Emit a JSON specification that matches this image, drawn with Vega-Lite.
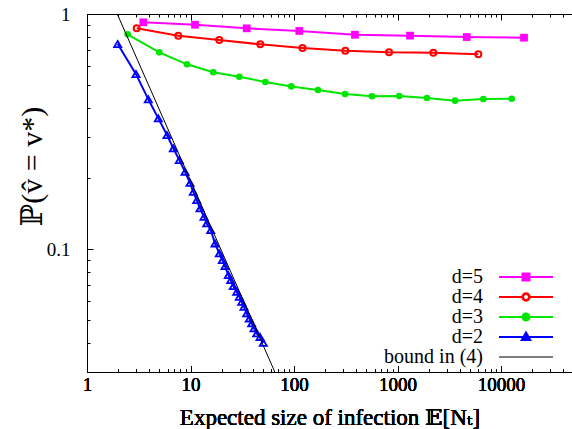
{
  "$schema": "https://vega.github.io/schema/vega-lite/v6.json",
  "autosize": {"type": "none"},
  "padding": {"left": 87, "top": 14, "right": 0, "bottom": 57},
  "width": 485,
  "height": 358,
  "config": {
    "view": {"stroke": null},
    "font": "Liberation Serif, DejaVu Serif, serif",
    "axis": {"grid": false, "domainColor": "#000", "domainWidth": 1, "tickColor": "#000", "tickWidth": 1, "labelColor": "#000", "titleColor": "#000", "labelFont": "Liberation Serif, DejaVu Serif, serif", "titleFont": "Liberation Serif, DejaVu Serif, serif", "titleFontWeight": "normal", "labelFontSize": 19, "labelFlush": false, "labelOverlap": false, "labelBound": false},
    "legend": {"labelFont": "Liberation Serif, DejaVu Serif, serif"}
  },
  "data": {
    "values": [
      {"series": "d=5", "x": 3.5, "y": 0.922},
      {"series": "d=5", "x": 11.05, "y": 0.9},
      {"series": "d=5", "x": 34.9, "y": 0.869},
      {"series": "d=5", "x": 112.5, "y": 0.847},
      {"series": "d=5", "x": 388, "y": 0.816},
      {"series": "d=5", "x": 1321, "y": 0.809},
      {"series": "d=5", "x": 4665, "y": 0.798},
      {"series": "d=5", "x": 16680, "y": 0.793},
      {"series": "d=4", "x": 3.02, "y": 0.869},
      {"series": "d=4", "x": 7.62, "y": 0.809},
      {"series": "d=4", "x": 18.97, "y": 0.775},
      {"series": "d=4", "x": 47.2, "y": 0.743},
      {"series": "d=4", "x": 120.8, "y": 0.717},
      {"series": "d=4", "x": 313, "y": 0.698},
      {"series": "d=4", "x": 828, "y": 0.687},
      {"series": "d=4", "x": 2218, "y": 0.684},
      {"series": "d=4", "x": 6036, "y": 0.674},
      {"series": "d=3", "x": 2.47, "y": 0.82},
      {"series": "d=3", "x": 4.99, "y": 0.687},
      {"series": "d=3", "x": 9.25, "y": 0.611},
      {"series": "d=3", "x": 16.6, "y": 0.565},
      {"series": "d=3", "x": 29.6, "y": 0.541},
      {"series": "d=3", "x": 52.8, "y": 0.514},
      {"series": "d=3", "x": 94.2, "y": 0.492},
      {"series": "d=3", "x": 170.6, "y": 0.475},
      {"series": "d=3", "x": 311, "y": 0.457},
      {"series": "d=3", "x": 567, "y": 0.447},
      {"series": "d=3", "x": 1040, "y": 0.448},
      {"series": "d=3", "x": 1928, "y": 0.439},
      {"series": "d=3", "x": 3594, "y": 0.428},
      {"series": "d=3", "x": 6745, "y": 0.435},
      {"series": "d=3", "x": 12690, "y": 0.436},
      {"series": "d=2", "x": 1.98, "y": 0.745},
      {"series": "d=2", "x": 2.974, "y": 0.555},
      {"series": "d=2", "x": 3.911, "y": 0.4335},
      {"series": "d=2", "x": 4.886, "y": 0.3598},
      {"series": "d=2", "x": 5.929, "y": 0.3055},
      {"series": "d=2", "x": 6.822, "y": 0.2683},
      {"series": "d=2", "x": 7.795, "y": 0.2392},
      {"series": "d=2", "x": 8.85, "y": 0.2133},
      {"series": "d=2", "x": 9.89, "y": 0.1915},
      {"series": "d=2", "x": 10.64, "y": 0.1753},
      {"series": "d=2", "x": 11.48, "y": 0.1616},
      {"series": "d=2", "x": 12.36, "y": 0.149},
      {"series": "d=2", "x": 13.5, "y": 0.1372},
      {"series": "d=2", "x": 14.34, "y": 0.1286},
      {"series": "d=2", "x": 15.67, "y": 0.1205},
      {"series": "d=2", "x": 17.25, "y": 0.1057},
      {"series": "d=2", "x": 18.98, "y": 0.0959},
      {"series": "d=2", "x": 20.29, "y": 0.0898},
      {"series": "d=2", "x": 21.54, "y": 0.0847},
      {"series": "d=2", "x": 23.19, "y": 0.0775},
      {"series": "d=2", "x": 24.45, "y": 0.0738},
      {"series": "d=2", "x": 25.91, "y": 0.0696},
      {"series": "d=2", "x": 27.95, "y": 0.0658},
      {"series": "d=2", "x": 29.61, "y": 0.0627},
      {"series": "d=2", "x": 31.23, "y": 0.0597},
      {"series": "d=2", "x": 32.88, "y": 0.0568},
      {"series": "d=2", "x": 34.91, "y": 0.0533},
      {"series": "d=2", "x": 36.99, "y": 0.0507},
      {"series": "d=2", "x": 39.02, "y": 0.0483},
      {"series": "d=2", "x": 41.07, "y": 0.046},
      {"series": "d=2", "x": 43.62, "y": 0.0438},
      {"series": "d=2", "x": 46.95, "y": 0.0423},
      {"series": "d=2", "x": 50.5, "y": 0.0399},
      {"series": "bound in (4)", "x": 1.96, "y": 1.0},
      {"series": "bound in (4)", "x": 65.3, "y": 0.03}
    ]
  },
  "encoding": {
    "x": {
      "field": "x", "type": "quantitative",
      "scale": {"type": "log", "domain": [1, 48500], "nice": false},
      "axis": {
        "orient": "bottom",
        "values": [1,2,3,4,5,6,7,8,9,10,20,30,40,50,60,70,80,90,100,200,300,400,500,600,700,800,900,1000,2000,3000,4000,5000,6000,7000,8000,9000,10000,20000,30000,40000],
        "format": "~g",
        "labelExpr": "indexof([1,10,100,1000,10000], datum.value) >= 0 ? datum.label : ''",
        "tickSize": {"condition": {"test": "indexof([1,10,100,1000,10000], datum.value) >= 0", "value": -6}, "value": -3},
        "labelPadding": 9,
        "title": "Expected size of infection 𝔼[Nₜ]",
        "titleFontSize": 23,
        "titleFontWeight": "normal",
        "titleBaseline": "middle",
        "titleY": 45
      }
    },
    "y": {
      "field": "y", "type": "quantitative",
      "scale": {"type": "log", "domain": [0.03, 1], "nice": false},
      "axis": {
        "values": [0.03,0.04,0.05,0.06,0.07,0.08,0.09,0.1,0.2,0.3,0.4,0.5,0.6,0.7,0.8,0.9,1],
        "format": "~g",
        "labelExpr": "indexof([0.1,1], datum.value) >= 0 ? datum.label : ''",
        "tickSize": {"condition": {"test": "indexof([0.1,1], datum.value) >= 0", "value": -6}, "value": -3},
        "labelPadding": 23,
        "title": "ℙ(v̂ = v*)",
        "titleFontSize": 30,
        "titleFontWeight": "normal",
        "titleAlign": "center",
        "titleBaseline": "middle",
        "titleAngle": -90,
        "titleX": -55,
        "titleY": 152
      }
    },
    "color": {
      "field": "series", "type": "nominal",
      "scale": {"domain": ["d=5", "d=4", "d=3", "d=2", "bound in (4)"], "range": ["#ff00ff", "#ff0000", "#00e600", "#0000ff", "#000000"]},
      "legend": {
        "orient": "none", "legendX": 429, "legendY": 253, "title": null,
        "labelFont": "Liberation Serif, DejaVu Serif, serif", "labelFontSize": 20, "labelColor": "#000",
        "labelAlign": "right", "labelOffset": -53,
        "symbolSize": 100, "symbolStrokeWidth": 2, "rowPadding": 0,
        "encode": {
          "symbols": {
            "update": {
              "shape": {"signal": "datum.value == 'd=5' ? 'M-5.4,0L5.4,0M-0.7,-0.7L0.7,-0.7L0.7,0.7L-0.7,0.7Z' : datum.value == 'd=4' ? 'M-5.4,0L-0.75,0M0.75,0L5.4,0M0.75,0A0.75,0.75 0 1,1 -0.75,0A0.75,0.75 0 1,1 0.75,0ZM0.6,0A0.6,0.6 0 1,0 -0.6,0A0.6,0.6 0 1,0 0.6,0Z' : datum.value == 'd=3' ? 'M-5.4,0L5.4,0M0.7,0A0.7,0.7 0 1,1 -0.7,0A0.7,0.7 0 1,1 0.7,0Z' : datum.value == 'd=2' ? 'M-5.4,0L5.4,0M0,-0.9L0.85,0.6L-0.85,0.6Z' : 'M-5.4,0L5.4,0'"},
              "stroke": {"signal": "scale('color', datum.value)"},
              "strokeWidth": {"signal": "datum.value == 'bound in (4)' ? 1 : 2"},
              "opacity": {"value": 1}
            }
          }
        }
      }
    }
  },
  "layer": [
    {
      "transform": [{"filter": "datum.series != 'bound in (4)'"}],
      "mark": {"type": "line", "strokeWidth": 2}
    },
    {
      "transform": [{"filter": "datum.series == 'd=5'"}],
      "mark": {"type": "point", "shape": "square", "filled": true, "size": 60, "opacity": 1}
    },
    {
      "transform": [{"filter": "datum.series == 'd=4'"}],
      "mark": {"type": "point", "shape": "circle", "filled": false, "size": 36, "strokeWidth": 2, "opacity": 1}
    },
    {
      "transform": [{"filter": "datum.series == 'd=3'"}],
      "mark": {"type": "point", "shape": "circle", "filled": true, "size": 44, "opacity": 1}
    },
    {
      "transform": [{"filter": "datum.series == 'd=2'"}],
      "mark": {"type": "point", "shape": "triangle-up", "filled": false, "size": 50, "strokeWidth": 1.8, "opacity": 1}
    },
    {
      "transform": [{"filter": "datum.series == 'bound in (4)'"}],
      "mark": {"type": "line", "strokeWidth": 1},
      "encoding": {
        "x": {
          "field": "x", "type": "quantitative",
          "axis": {
            "orient": "top",
            "values": [1,2,3,4,5,6,7,8,9,10,20,30,40,50,60,70,80,90,100,200,300,400,500,600,700,800,900,1000,2000,3000,4000,5000,6000,7000,8000,9000,10000,20000,30000,40000],
            "labels": false,
            "title": null,
            "tickSize": {"condition": {"test": "indexof([1,10,100,1000,10000], datum.value) >= 0", "value": -6}, "value": -3}
          }
        }
      }
    }
  ]
}
